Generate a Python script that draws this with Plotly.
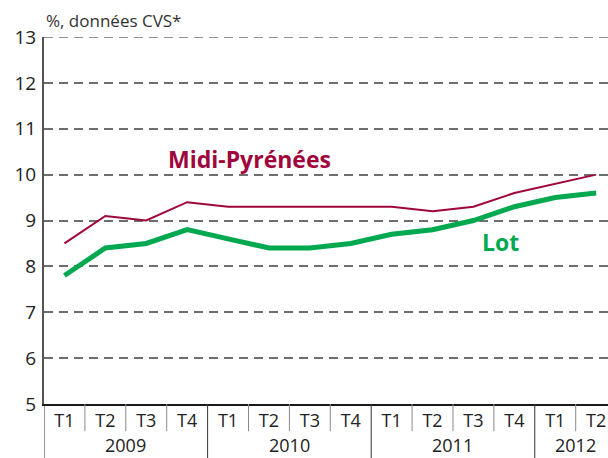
import plotly.graph_objects as go

quarters = ["T1", "T2", "T3", "T4", "T1", "T2", "T3", "T4",
            "T1", "T2", "T3", "T4", "T1", "T2"]
years = ["2009", "2010", "2011", "2012"]
quarters_per_year = [4, 4, 4, 2]
midi_pyrenees = [8.5, 9.1, 9.0, 9.4, 9.3, 9.3, 9.3, 9.3, 9.3, 9.2, 9.3, 9.6, 9.8, 10.0]
lot = [7.8, 8.4, 8.5, 8.8, 8.6, 8.4, 8.4, 8.5, 8.7, 8.8, 9.0, 9.3, 9.5, 9.6]
y_ticks = [5, 6, 7, 8, 9, 10, 11, 12, 13]

RED = "#A0053C"
GREEN = "#00A94F"
FONT = "Open Sans, Noto Sans, sans-serif"

x = list(range(len(quarters)))

fig = go.Figure()
fig.add_trace(go.Scatter(x=x, y=midi_pyrenees, mode="lines",
                         line=dict(color=RED, width=2), name="Midi-Pyrénées",
                         hoverinfo="skip"))
fig.add_trace(go.Scatter(x=x, y=lot, mode="lines",
                         line=dict(color=GREEN, width=5), name="Lot",
                         hoverinfo="skip"))

shapes = []
# separators between quarters (short) and between years (long)
year_starts = []
acc = 0
for n in quarters_per_year:
    year_starts.append(acc)
    acc += n
for i in range(len(quarters) + 1):
    xb = i - 0.5
    if i in year_starts:
        shapes.append(dict(type="line", xref="x", yref="paper", x0=xb, x1=xb,
                           y0=0, y1=-0.16, line=dict(color="#333333", width=1)))
    else:
        shapes.append(dict(type="line", xref="x", yref="paper", x0=xb, x1=xb,
                           y0=0, y1=-0.074, line=dict(color="#8a8a8a", width=1)))
# top dashed gridline at 13
shapes.append(dict(type="line", xref="paper", yref="y", x0=0, x1=1,
                   y0=y_ticks[-1], y1=y_ticks[-1], layer="below",
                   line=dict(color="#6e6e6e", width=1.5, dash="9px,6px")))

annotations = []
acc = 0
for yr, n in zip(years, quarters_per_year):
    center = acc + (n - 1) / 2
    annotations.append(dict(x=center, y=-0.113, xref="x", yref="paper",
                            text=yr, showarrow=False, yanchor="middle",
                            font=dict(family=FONT, size=18, color="#222222")))
    acc += n

annotations.append(dict(x=4.53, y=10.35, xref="x", yref="y", text="<b>Midi-Pyrénées</b>",
                        showarrow=False, font=dict(family=FONT, size=23, color=RED)))
annotations.append(dict(x=10.65, y=8.53, xref="x", yref="y", text="<b>Lot</b>",
                        showarrow=False, font=dict(family=FONT, size=23, color=GREEN)))
annotations.append(dict(x=0, y=1.0, xref="paper", yref="paper", xanchor="left",
                        yanchor="bottom", yshift=3, text="%, données CVS*", showarrow=False,
                        font=dict(family=FONT, size=17, color="#333333")))

fig.update_layout(
    width=608, height=458,
    margin=dict(l=44, r=0, t=37, b=54),
    plot_bgcolor="white", paper_bgcolor="white",
    showlegend=False,
    font=dict(family=FONT, size=18, color="#222222"),
    shapes=shapes,
    annotations=annotations,
    xaxis=dict(range=[-0.5, 13.29], tickmode="array", tickvals=x, ticktext=quarters,
               showgrid=False, zeroline=False, showline=True, linecolor="#1a1a1a",
               linewidth=1.5, ticks="", tickfont=dict(family=FONT, size=18, color="#222222"),
               fixedrange=True),
    yaxis=dict(range=[5, 13], tickmode="array", tickvals=y_ticks,
               showgrid=True, gridcolor="#6e6e6e", gridwidth=1.5, griddash="9px,6px",
               zeroline=False, showline=True, linecolor="#555555", linewidth=2,
               ticks="", ticklabelstandoff=2,
               tickfont=dict(family=FONT, size=19, color="#222222"), fixedrange=True),
)

fig.write_html("out.html", config={"displayModeBar": False},
               post_script="document.body.style.margin='0';document.body.style.overflow='hidden';")
